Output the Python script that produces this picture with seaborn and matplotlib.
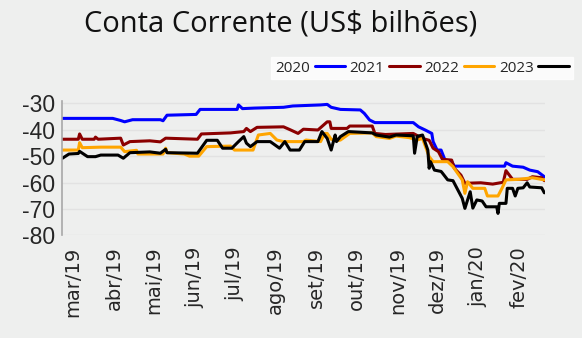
import matplotlib
matplotlib.use("Agg")
import matplotlib.pyplot as plt
from matplotlib.lines import Line2D
import seaborn as sns
import pandas as pd

BASE_DATE = "2019-03-01"

# day offsets from BASE_DATE and values (US$ bilhões)
days_2020 = [-8, 30, 36, 39, 45, 66, 68, 71, 93, 96, 124, 125, 128, 137, 159, 166, 187, 192, 195, 202,
             217, 220, 224, 228, 257, 261, 266, 271, 272, 275, 278, 281, 286, 288, 326, 327, 332, 340, 345, 351, 356]
vals_2020 = [-35.7, -35.7, -36.5, -37.0, -36.2, -36.2, -36.6, -34.5, -34.2, -32.3, -32.3, -30.6, -32.0, -31.8,
             -31.5, -31.0, -30.6, -30.4, -31.5, -32.3, -32.5, -33.8, -36.3, -37.3, -37.3, -38.9, -40.1, -41.4,
             -44.5, -47.7, -47.7, -51.5, -52.1, -53.8, -53.8, -52.5, -53.8, -54.2, -55.3, -55.9, -57.8]

days_2021 = [-8, 4, 5, 7, 16, 17, 19, 36, 38, 43, 58, 66, 70, 94, 97, 119, 129, 131, 134, 139, 159, 164,
             170, 174, 185, 192, 194, 195, 207, 209, 226, 228, 236, 257, 264, 269, 272, 276, 279, 286, 288, 293,
             296, 308, 317, 325, 327, 332, 343, 347, 354, 356]
vals_2021 = [-43.6, -43.6, -41.6, -43.6, -43.6, -42.8, -43.6, -43.2, -45.8, -44.5, -44.2, -44.6, -43.2, -43.6,
             -41.6, -41.2, -40.7, -39.5, -40.7, -39.1, -38.9, -40.0, -41.4, -39.8, -40.1, -37.0, -37.0, -39.5,
             -39.5, -38.6, -38.6, -41.4, -41.8, -41.4, -43.3, -44.0, -47.0, -48.3, -51.2, -51.5, -54.6, -57.2,
             -60.3, -60.1, -60.6, -59.9, -55.5, -58.8, -58.8, -57.8, -58.2, -59.3]

days_2022 = [-8, 4, 5, 7, 21, 36, 39, 48, 49, 68, 70, 71, 84, 88, 95, 101, 119, 122, 136, 140, 149, 154,
             159, 174, 176, 187, 190, 192, 195, 199, 202, 209, 226, 229, 239, 244, 254, 260, 264, 269, 272, 283,
             287, 294, 296, 298, 302, 311, 313, 321, 324, 327, 337, 347, 356]
vals_2022 = [-47.7, -47.7, -44.9, -46.8, -46.6, -46.6, -48.3, -47.8, -49.2, -49.2, -47.0, -48.7, -49.2, -50.0,
             -50.0, -46.4, -46.2, -47.7, -47.7, -42.0, -41.4, -43.9, -44.5, -44.5, -43.9, -44.5, -41.4, -41.4,
             -43.6, -44.2, -43.9, -41.4, -41.2, -42.6, -43.3, -42.4, -43.0, -43.9, -43.3, -50.2, -52.1, -52.1,
             -54.0, -59.0, -64.1, -59.7, -62.2, -62.2, -65.1, -65.1, -62.2, -59.0, -58.8, -58.2, -59.0]

days_2023 = [-8, -3, 4, 5, 11, 17, 21, 34, 38, 43, 58, 66, 70, 71, 94, 101, 109, 113, 120, 125, 129, 131,
             134, 139, 149, 156, 160, 164, 171, 175, 185, 188, 192, 195, 198, 199, 202, 208, 226, 229, 239, 244,
             257, 258, 260, 264, 268, 269, 270, 273, 278, 279, 283, 287, 294, 296, 300, 302, 305, 309, 312, 320,
             321, 322, 327, 328, 332, 334, 336, 340, 343, 345, 354, 356]
vals_2023 = [-50.8, -49.2, -49.0, -48.2, -50.2, -50.2, -49.6, -49.6, -50.8, -48.7, -48.4, -48.9, -47.4, -48.7,
             -48.9, -44.0, -44.0, -47.0, -47.0, -44.5, -42.6, -45.1, -46.4, -44.5, -44.5, -47.0, -44.5, -47.7,
             -47.7, -44.5, -44.5, -40.7, -43.3, -47.7, -42.0, -44.5, -42.6, -40.7, -41.2, -42.0, -42.8, -42.0,
             -42.3, -48.9, -42.5, -42.0, -47.7, -54.6, -52.1, -55.3, -55.8, -56.4, -59.0, -59.3, -66.0, -69.8,
             -63.5, -69.7, -66.6, -67.0, -69.2, -69.2, -71.7, -67.9, -67.9, -62.2, -62.2, -65.1, -62.2, -62.0,
             -60.1, -61.7, -62.0, -63.9]

series_names = ["2020", "2021", "2022", "2023"]
series_colors = ["#0000FF", "#8B0000", "#FFA500", "#000000"]

tick_dates = ["2019-03-01", "2019-04-01", "2019-05-01", "2019-06-01", "2019-07-01", "2019-08-01",
              "2019-09-01", "2019-10-01", "2019-11-01", "2019-12-01", "2020-01-01", "2020-02-01"]
tick_labels = ["mar/19", "abr/19", "mai/19", "jun/19", "jul/19", "ago/19",
               "set/19", "out/19", "nov/19", "dez/19", "jan/20", "fev/20"]
y_ticks = [-30, -40, -50, -60, -70, -80]

base = pd.Timestamp(BASE_DATE)
frames = []
for name, d, v in zip(series_names,
                      [days_2020, days_2021, days_2022, days_2023],
                      [vals_2020, vals_2021, vals_2022, vals_2023]):
    frames.append(pd.DataFrame({"data": base + pd.to_timedelta(d, unit="D"),
                                "valor": v, "serie": name}))
df = pd.concat(frames, ignore_index=True)

BG = "#eeefee"
sns.set_theme(style="white")
plt.rcParams["font.family"] = ["Liberation Sans", "DejaVu Sans"]

fig = plt.figure(figsize=(5.82, 3.38), dpi=100, facecolor=BG)
ax = fig.add_axes([62 / 582, 1 - 235.3 / 338, (545 - 62) / 582, (235.3 - 100.7) / 338])
ax.set_facecolor(BG)

sns.lineplot(data=df, x="data", y="valor", hue="serie", palette=dict(zip(series_names, series_colors)),
             estimator=None, sort=True, linewidth=2.2, legend=False, ax=ax)

ax.set_xlim(base + pd.Timedelta(days=-8.3), base + pd.Timedelta(days=356.5))
ax.set_ylim(-80, -29)
ax.set_yticks(y_ticks)
ax.set_yticklabels([str(t) for t in y_ticks], fontsize=16.5)
ax.set_xticks(pd.to_datetime(tick_dates))
ax.set_xticklabels(tick_labels, rotation=90, fontsize=14, va="top", ha="center",
                   family=["DejaVu Sans"])
ax.tick_params(axis="both", length=0)
ax.tick_params(axis="x", pad=8)
ax.tick_params(axis="y", pad=5)
ax.set_xlabel("")
ax.set_ylabel("")
ax.grid(axis="y", color="#e2e2e2", linewidth=1)
ax.grid(axis="x", visible=False)
for s in ["top", "right", "bottom"]:
    ax.spines[s].set_visible(False)
ax.spines["left"].set_color("#a8a8a8")
ax.spines["left"].set_linewidth(1.2)

fig.text(281 / 582, 1 - 24 / 338, "Conta Corrente (US$ bilhões)", ha="center", va="center",
         fontsize=21, family=["Open Sans", "DejaVu Sans"], color="#111111")

handles = [Line2D([0], [0], color=c, linewidth=2.2) for c in series_colors]
leg = fig.legend(handles, series_names, loc="center", bbox_to_anchor=(422 / 582, 1 - 68 / 338),
                 ncol=4, markerfirst=False, frameon=True, fancybox=False, handlelength=2.0,
                 handletextpad=0.3, columnspacing=0.3, borderpad=0.25,
                 prop={"family": ["Open Sans", "DejaVu Sans"], "size": 11})
leg.get_frame().set_facecolor("white")
leg.get_frame().set_edgecolor("white")

fig.savefig("out.png", dpi=100, facecolor=BG)
